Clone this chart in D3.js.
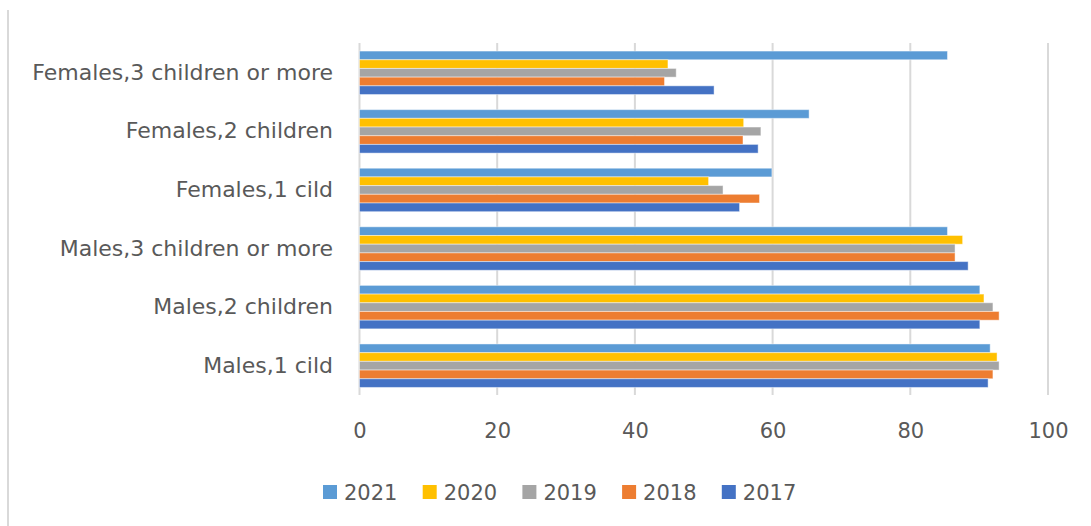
<!DOCTYPE html>
<html>
<head>
<meta charset="utf-8">
<script src="https://cdn.jsdelivr.net/npm/d3@7"></script>
<style>
  html, body { margin: 0; padding: 0; background: #fff; }
  svg { display: block; }
  text { font-family: "DejaVu Sans", sans-serif; fill: #595959; }
</style>
</head>
<body>
<svg id="chart" width="1091" height="526"></svg>
<script>
// Categories, top to bottom
const categories = [
  "Females,3 children or more",
  "Females,2 children",
  "Females,1 cild",
  "Males,3 children or more",
  "Males,2 children",
  "Males,1 cild"
];
// Series order within each group, top to bottom
const seriesNames = ["2021", "2020", "2019", "2018", "2017"];
const values2021 = [85.4, 65.3, 59.9, 85.4, 90.1, 91.6];
const values2020 = [44.8, 55.8, 50.7, 87.6, 90.7, 92.6];
const values2019 = [46.0, 58.3, 52.8, 86.5, 92.0, 92.9];
const values2018 = [44.3, 55.7, 58.1, 86.5, 92.9, 92.0];
const values2017 = [51.5, 57.9, 55.2, 88.4, 90.1, 91.3];
const seriesValues = [values2021, values2020, values2019, values2018, values2017];
const colors = ["#5B9BD5", "#FFC000", "#A5A5A5", "#ED7D31", "#4472C4"];
const xTicks = [0, 20, 40, 60, 80, 100];

const FONT = "DejaVu Sans, sans-serif";
const FS = 21;

const svg = d3.select("#chart");

// chart frame left edge
svg.append("line")
  .attr("x1", 8).attr("x2", 8).attr("y1", 10).attr("y2", 526)
  .attr("stroke", "#d9d9d9").attr("stroke-width", 2);

const x = d3.scaleLinear().domain([0, 100]).range([359.5, 1048]);
const y = d3.scaleBand().domain(categories).range([43.5, 395])
  .paddingInner(0.258).paddingOuter(0.129);
const ySub = d3.scaleBand().domain(seriesNames).range([0, y.bandwidth()]);

// gridlines
svg.append("g").selectAll("line").data(xTicks).join("line")
  .attr("x1", d => x(d)).attr("x2", d => x(d))
  .attr("y1", 43).attr("y2", 395)
  .attr("stroke", "#d9d9d9").attr("stroke-width", 2);

// bars
const rows = [];
categories.forEach((c, i) => {
  seriesNames.forEach((s, j) => {
    rows.push({ cat: c, series: s, value: seriesValues[j][i], color: colors[j] });
  });
});
svg.append("g").selectAll("rect").data(rows).join("rect")
  .attr("x", x(0))
  .attr("y", d => y(d.cat) + ySub(d.series))
  .attr("width", d => x(d.value) - x(0))
  .attr("height", ySub.bandwidth())
  .attr("fill", d => d.color)
  .attr("stroke", "#fff").attr("stroke-opacity", 0.45).attr("stroke-width", 1);

// x axis labels
const xAxis = d3.axisBottom(x).tickValues(xTicks).tickSize(0).tickPadding(0).tickFormat(d3.format("d"));
const gx = svg.append("g").attr("transform", "translate(0,423)").call(xAxis);
gx.select(".domain").remove();
gx.selectAll("text").attr("font-size", FS).attr("fill", "#595959")
  .attr("font-family", FONT);

// y axis labels
const yAxis = d3.axisLeft(y).tickSize(0).tickPadding(0);
const gy = svg.append("g").attr("transform", "translate(333,0)").call(yAxis);
gy.select(".domain").remove();
gy.selectAll("text").attr("font-size", 22).attr("fill", "#595959")
  .attr("font-family", FONT);

// legend
const legend = svg.append("g");
const lg = legend.selectAll("g").data(seriesNames).join("g")
  .attr("transform", (d, i) => `translate(${323 + i * 99.7},485)`);
lg.append("rect").attr("width", 14).attr("height", 14)
  .attr("fill", (d, i) => colors[i]);
lg.append("text").attr("x", 21).attr("y", 7).attr("dy", "0.36em")
  .attr("font-size", FS).attr("font-family", FONT).text(d => d);
</script>
</body>
</html>
